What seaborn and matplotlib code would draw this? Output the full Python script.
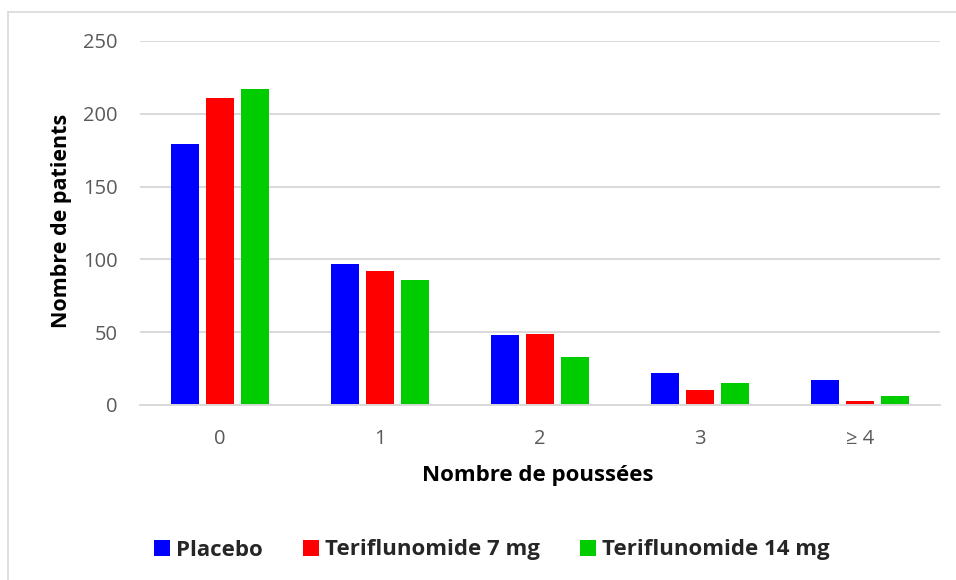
import matplotlib
matplotlib.use("Agg")
import matplotlib.pyplot as plt
import seaborn as sns
import pandas as pd
from matplotlib.lines import Line2D

categories = ["0", "1", "2", "3", "≥ 4"]
series_names = ["Placebo", "Teriflunomide 7 mg", "Teriflunomide 14 mg"]
placebo = [179, 97, 48, 22, 17]
teri7 = [211, 92, 49, 10, 3]
teri14 = [217, 86, 33, 15, 6]
yticks = [0, 50, 100, 150, 200, 250]
colors = ["#0000FF", "#FF0000", "#00CC00"]

rows = []
for name, vals in zip(series_names, [placebo, teri7, teri14]):
    for c, v in zip(categories, vals):
        rows.append({"cat": c, "group": name, "val": v})
df = pd.DataFrame(rows)

sns.set_theme(style="white")
plt.rcParams["font.family"] = ["Open Sans", "DejaVu Sans"]

W, H = 956, 580
fig = plt.figure(figsize=(W / 100, H / 100), dpi=100)
ax = fig.add_axes([140 / W, 1 - 405 / H, 800 / W, 364 / H])

sns.barplot(data=df, x="cat", y="val", hue="group", order=categories,
            hue_order=series_names, palette=colors, width=0.656, gap=0.2,
            saturation=1, errorbar=None, ax=ax, linewidth=0)

ax.set_xlim(-0.5, 4.5)
ax.set_ylim(0, 250)
ax.set_yticks(yticks)
ax.grid(axis="y", color="#D9D9D9", linewidth=1.4)
ax.grid(axis="x", visible=False)
ax.set_axisbelow(True)
for s in ["top", "right", "left"]:
    ax.spines[s].set_visible(False)
ax.spines["bottom"].set_color("#D9D9D9")
ax.spines["bottom"].set_linewidth(1.4)
ax.tick_params(axis="both", length=0, labelsize=14.5, labelcolor="#595959")
ax.tick_params(axis="y", pad=16)
ax.tick_params(axis="x", pad=17)

ax.set_xlabel("Nombre de poussées", fontsize=16, fontweight="bold", color="black")
ax.set_ylabel("Nombre de patients", fontsize=15.5, fontweight="bold", color="black")
ax.xaxis.set_label_coords(0.4975, (405 - 465) / 364)
ax.yaxis.set_label_coords((72 - 140) / 800, 0.505)

sns.move_legend(ax, "center", bbox_to_anchor=(492 / W, 1 - 550 / H),
                bbox_transform=fig.transFigure, ncol=3, frameon=False, title=None,
                prop={"weight": "bold", "size": 16}, handlelength=0.7,
                handleheight=0.7, handletextpad=0.3, columnspacing=1.8)

fig.add_artist(Line2D([7.5 / W, 1], [1 - 11.5 / H, 1 - 11.5 / H],
                      transform=fig.transFigure, color="#D9D9D9", lw=1.2))
fig.add_artist(Line2D([7.5 / W, 7.5 / W], [0, 1 - 11.5 / H],
                      transform=fig.transFigure, color="#D9D9D9", lw=1.2))

fig.savefig("out.png", dpi=100)
